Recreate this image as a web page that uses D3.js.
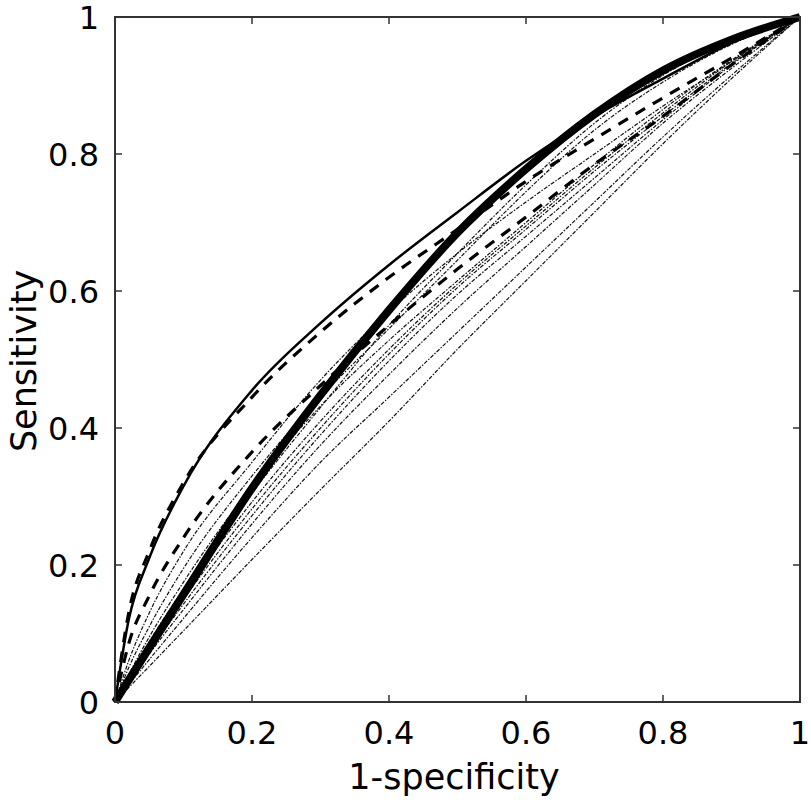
<!DOCTYPE html>
<html lang="en">
<head>
<meta charset="utf-8">
<style>
  body { margin: 0; background: #fff; }
  .frame { fill: none; stroke: #333; stroke-width: 2px; }
  .tick { stroke: #333; stroke-width: 1.5px; }
  .lbl { font-family: "DejaVu Sans", sans-serif; font-size: 32px; fill: #000; }
  .title { font-family: "DejaVu Sans", sans-serif; font-size: 35px; fill: #000; }
</style>
</head>
<body>
<svg width="811" height="802"></svg>
<script src="https://cdn.jsdelivr.net/npm/d3@7"></script>
<script>
// false positive rate grid shared by all curves
var fprGrid = [0, 0.02, 0.05, 0.1, 0.2, 0.3, 0.4, 0.5, 0.6, 0.7, 0.8, 0.9, 1];
var tickValues = [0, 0.2, 0.4, 0.6, 0.8, 1];
var tickLabels = ["0", "0.2", "0.4", "0.6", "0.8", "1"];

// main curves
var solidThin   = [0, 0.12, 0.21, 0.315, 0.455, 0.553, 0.638, 0.715, 0.79, 0.855, 0.91, 0.962, 1];
var dashedUpper = [0, 0.13, 0.22, 0.32, 0.445, 0.54, 0.62, 0.69, 0.76, 0.822, 0.882, 0.94, 1];
var dashedLower = [0, 0.085, 0.155, 0.24, 0.365, 0.462, 0.55, 0.632, 0.708, 0.785, 0.855, 0.93, 1];
var solidThick  = [0, 0.032, 0.079, 0.157, 0.312, 0.448, 0.572, 0.685, 0.778, 0.858, 0.922, 0.967, 1];

// individual dash-dot curves
var dd1  = [0, 0.021, 0.052, 0.104, 0.208, 0.31, 0.41, 0.515, 0.615, 0.715, 0.815, 0.91, 1];
var dd2  = [0, 0.025, 0.062, 0.122, 0.24, 0.35, 0.445, 0.54, 0.635, 0.73, 0.825, 0.915, 1];
var dd3  = [0, 0.028, 0.07, 0.135, 0.26, 0.375, 0.478, 0.575, 0.665, 0.755, 0.845, 0.925, 1];
var dd4  = [0, 0.03, 0.074, 0.143, 0.272, 0.39, 0.498, 0.595, 0.68, 0.765, 0.85, 0.93, 1];
var dd5  = [0, 0.032, 0.078, 0.15, 0.282, 0.4, 0.508, 0.605, 0.69, 0.775, 0.855, 0.932, 1];
var dd6  = [0, 0.034, 0.082, 0.157, 0.292, 0.41, 0.515, 0.61, 0.695, 0.78, 0.86, 0.935, 1];
var dd7  = [0, 0.04, 0.095, 0.175, 0.315, 0.432, 0.528, 0.615, 0.7, 0.785, 0.865, 0.937, 1];
var dd8  = [0, 0.036, 0.088, 0.165, 0.305, 0.43, 0.55, 0.655, 0.755, 0.845, 0.915, 0.965, 1];
var dd9  = [0, 0.05, 0.11, 0.195, 0.33, 0.445, 0.545, 0.645, 0.745, 0.835, 0.905, 0.96, 1];
var dd10 = [0, 0.06, 0.13, 0.22, 0.35, 0.47, 0.57, 0.655, 0.73, 0.8, 0.87, 0.935, 1];

var svg = d3.select("svg");
var plotLeft = 115, plotRight = 800, plotTop = 17, plotBottom = 702;

var x = d3.scaleLinear().domain([0, 1]).range([plotLeft, plotRight]);
var y = d3.scaleLinear().domain([0, 1]).range([plotBottom, plotTop]);

var line = d3.line()
    .x(function (d) { return x(d[0]); })
    .y(function (d) { return y(d[1]); })
    .curve(d3.curveMonotoneX);

function pts(vals) { return fprGrid.map(function (f, i) { return [f, vals[i]]; }); }

var plot = svg.append("g");

[dd1, dd2, dd3, dd4, dd5, dd6, dd7, dd8, dd9, dd10].forEach(function (s) {
    plot.append("path").attr("d", line(pts(s)))
        .attr("fill", "none").attr("stroke", "#111")
        .attr("stroke-width", 1.2).attr("stroke-dasharray", "4,1.5,1.5,1.5");
});

plot.append("path").attr("d", line(pts(dashedLower)))
    .attr("fill", "none").attr("stroke", "#000").attr("stroke-width", 3.2)
    .attr("stroke-dasharray", "11,9");
plot.append("path").attr("d", line(pts(dashedUpper)))
    .attr("fill", "none").attr("stroke", "#000").attr("stroke-width", 3.2)
    .attr("stroke-dasharray", "11,9");
plot.append("path").attr("d", line(pts(solidThin)))
    .attr("fill", "none").attr("stroke", "#000").attr("stroke-width", 2.5);
plot.append("path").attr("d", line(pts(solidThick)))
    .attr("fill", "none").attr("stroke", "#000").attr("stroke-width", 8);

// frame and inward ticks on all sides
svg.append("rect").attr("class", "frame")
    .attr("x", plotLeft).attr("y", plotTop)
    .attr("width", plotRight - plotLeft).attr("height", plotBottom - plotTop);

var tl = 7;
tickValues.forEach(function (v, i) {
    svg.append("line").attr("class", "tick").attr("x1", x(v)).attr("x2", x(v)).attr("y1", plotBottom).attr("y2", plotBottom - tl);
    svg.append("line").attr("class", "tick").attr("x1", x(v)).attr("x2", x(v)).attr("y1", plotTop).attr("y2", plotTop + tl);
    svg.append("line").attr("class", "tick").attr("y1", y(v)).attr("y2", y(v)).attr("x1", plotLeft).attr("x2", plotLeft + tl);
    svg.append("line").attr("class", "tick").attr("y1", y(v)).attr("y2", y(v)).attr("x1", plotRight).attr("x2", plotRight - tl);

    svg.append("text").attr("class", "lbl")
        .attr("x", x(v)).attr("y", 744).attr("text-anchor", "middle").text(tickLabels[i]);
    svg.append("text").attr("class", "lbl")
        .attr("x", 99).attr("y", y(v) + 12).attr("text-anchor", "end").text(tickLabels[i]);
});

svg.append("text").attr("class", "title")
    .attr("x", 454).attr("y", 789).attr("text-anchor", "middle").text("1-specificity");
svg.append("text").attr("class", "title")
    .attr("transform", "translate(36," + 361 + ") rotate(-90)")
    .attr("text-anchor", "middle").text("Sensitivity");
</script>
</body>
</html>
